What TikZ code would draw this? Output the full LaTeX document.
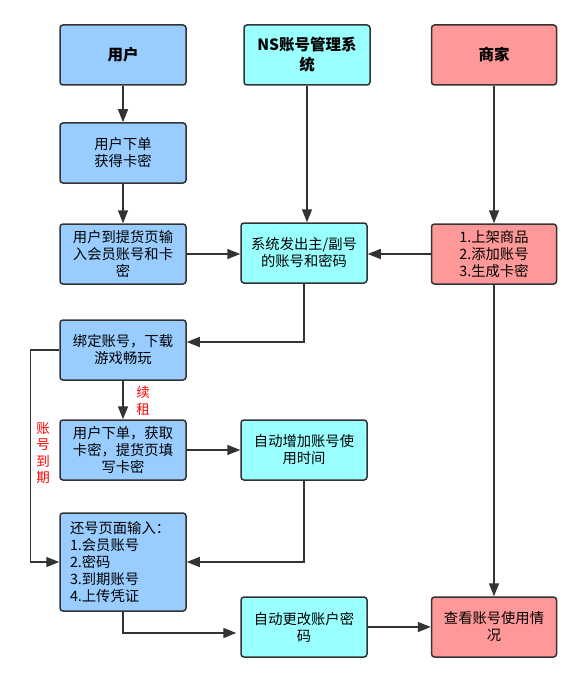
\documentclass[tikz,border=0pt]{standalone}
\usepackage{fontspec}
\setmainfont{Noto Sans CJK SC}
\usetikzlibrary{arrows.meta}
\definecolor{ublue}{HTML}{99CCFF}
\definecolor{ucyan}{HTML}{99FFFF}
\definecolor{ured}{HTML}{FF9999}
\definecolor{edgec}{HTML}{333333}
\begin{document}
\begin{tikzpicture}[x=1pt,y=-1pt,
  box/.style={draw=edgec, line width=1.5pt, rounded corners=3pt, minimum width=126pt, minimum height=60pt, inner sep=2pt, align=center, font=\fontsize{14.3}{17}\selectfont, text=black},
  titlebox/.style={box, font=\fontsize{15.5}{20}\selectfont\bfseries},
  bluebox/.style={fill=ublue},
  cyanbox/.style={fill=ucyan},
  redbox/.style={fill=ured},
  conn/.style={draw=edgec, line width=1.5pt, -{Triangle[length=13pt,width=10pt]}},
  redlab/.style={text=red, font=\fontsize{13.5}{16.5}\selectfont, align=center, inner sep=0pt}
]
\useasboundingbox[fill=white] (0,0) rectangle (582,682);

% column 1
\node[titlebox,bluebox] (user) at (123,55) {用户};
\node[box,bluebox] (order1) at (123,153) {用户下单\\获得卡密};
\node[box,bluebox] (input) at (123,254) {用户到提货页输\\入会员账号和卡\\密};
\node[box,bluebox] (bind) at (123,350) {绑定账号，下载\\游戏畅玩};
\node[box,bluebox] (order2) at (123,450) {用户下单，获取\\卡密，提货页填\\写卡密};
\node[box,bluebox,minimum height=98pt,align=left,text width=106pt,inner xsep=10pt] (ret) at (123,562) {还号页面输入：\\1.会员账号\\2.密码\\3.到期账号\\4.上传凭证};

% column 2
\node[titlebox,cyanbox] (ns) at (307,55) {NS账号管理系\\统};
\node[box,cyanbox] (sys) at (304,253) {系统发出主/副号\\的账号和密码};
\node[box,cyanbox] (addtime) at (304,450) {自动增加账号使\\用时间};
\node[box,cyanbox] (change) at (304,627) {自动更改账户密\\码};

% column 3
\node[titlebox,redbox,minimum width=125pt] (merchant) at (494,55) {商家};
\node[box,redbox,minimum width=125pt] (m2) at (494,254) {1.上架商品\\2.添加账号\\3.生成卡密};
\node[box,redbox,minimum width=125pt] (view) at (494,627) {查看账号使用情\\况};

% connectors
\draw[conn] (user) -- (order1);
\draw[conn] (order1) -- (input);
\draw[conn] (ns.south) -- (ns.south |- sys.north);
\draw[conn] (merchant) -- (m2);
\draw[conn] (input.east) -- (input.east -| sys.west);
\draw[conn] (m2.west) -- (m2.west -| sys.east);
\draw[conn] (sys.south) |- ([yshift=8pt]bind.east);
\draw[conn] (m2) -- (view);
\draw[conn] (bind) -- (order2);
\draw[conn] (bind.west) -- ++(-29,0) coordinate (lc) |- (ret.west);
\draw[conn] (order2) -- (addtime);
\draw[conn] (addtime.south) |- (ret.east);
\draw[conn] (ret.south) |- ([xshift=-4pt,yshift=-6pt]change.west);
\draw[conn] (change) -- (view);

% labels
\node[redlab] (renew) at (143,401) {续\\租};
\node[redlab] (expire) at (43,453) {账\\号\\到\\期};
\end{tikzpicture}
\end{document}
